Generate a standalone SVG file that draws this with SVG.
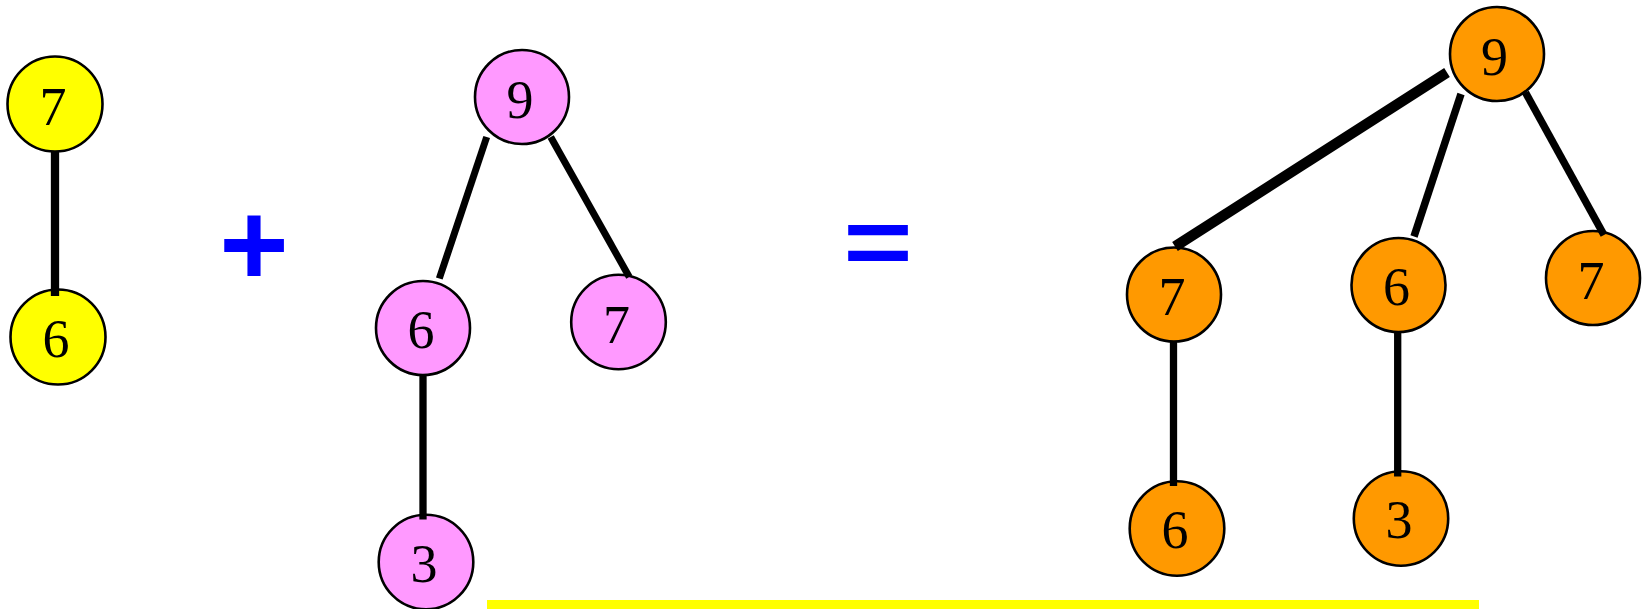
<svg xmlns="http://www.w3.org/2000/svg" width="1647" height="609" viewBox="0 0 1647 609">
<style>
.n{stroke:#000;stroke-width:2.6}
.y{fill:#FFFF00}.p{fill:#FF99FF}.o{fill:#FF9900}
.t{font-family:"Liberation Serif","Times New Roman",serif;font-size:54px;fill:#000;text-anchor:middle}
.e{stroke:#000;stroke-linecap:butt;fill:none}
.op{font-family:"Liberation Sans",Arial,sans-serif;font-weight:bold;font-size:119px;fill:#0000FF;text-anchor:middle}
</style>
<rect width="1647" height="609" fill="#fff"/>
<g id="y7"><circle class="n y" cx="55" cy="104" r="47.5"/><text class="t" x="53" y="125">7</text></g>
<g id="y6"><circle class="n y" cx="58" cy="337" r="47.5"/><text class="t" x="56" y="357">6</text></g>
<g id="p9"><circle class="n p" cx="522" cy="97" r="47"/><text class="t" x="520" y="118">9</text></g>
<g id="p6"><circle class="n p" cx="423" cy="328" r="47"/><text class="t" x="421" y="348">6</text></g>
<g id="p7"><circle class="n p" cx="618.5" cy="322" r="47.3"/><text class="t" x="616.5" y="342.5">7</text></g>
<g id="p3"><circle class="n p" cx="426" cy="562" r="47.3"/><text class="t" x="424" y="582">3</text></g>
<g id="o9"><circle class="n o" cx="1497" cy="54" r="47"/><text class="t" x="1494.5" y="75">9</text></g>
<g id="o7a"><circle class="n o" cx="1174" cy="294.5" r="47"/><text class="t" x="1172" y="315">7</text></g>
<g id="o6a"><circle class="n o" cx="1398.5" cy="285" r="47"/><text class="t" x="1396.5" y="305">6</text></g>
<g id="o7b"><circle class="n o" cx="1593" cy="278" r="47"/><text class="t" x="1591" y="299">7</text></g>
<g id="o6b"><circle class="n o" cx="1177" cy="528.5" r="47.3"/><text class="t" x="1175" y="548">6</text></g>
<g id="o3"><circle class="n o" cx="1401" cy="518.5" r="47.2"/><text class="t" x="1399" y="538">3</text></g>
<g id="connectors">
<line class="e" stroke-width="8.3" x1="55" y1="151" x2="55" y2="296"/>
<line class="e" stroke-width="7" x1="486.7" y1="137" x2="439.3" y2="278.5"/>
<line class="e" stroke-width="7" x1="550.7" y1="137" x2="629.3" y2="277"/>
<line class="e" stroke-width="7.3" x1="423" y1="375" x2="423" y2="519.5"/>
<line class="e" stroke-width="10.5" x1="1447" y1="72.5" x2="1175" y2="246.5"/>
<line class="e" stroke-width="7.5" x1="1461" y1="94" x2="1414" y2="236.5"/>
<line class="e" stroke-width="7.5" x1="1525.5" y1="92.5" x2="1604" y2="235"/>
<line class="e" stroke-width="7.3" x1="1173.5" y1="341.5" x2="1173.5" y2="486"/>
<line class="e" stroke-width="7.3" x1="1397.7" y1="332" x2="1397.7" y2="476.5"/>
</g>
<text class="op" x="254" y="285">+</text>
<text class="op" x="878" y="282" transform="translate(0,244) scale(1,0.8) translate(0,-244)">=</text>
<rect x="487" y="600" width="992" height="12" fill="#FFFF00"/>
</svg>
